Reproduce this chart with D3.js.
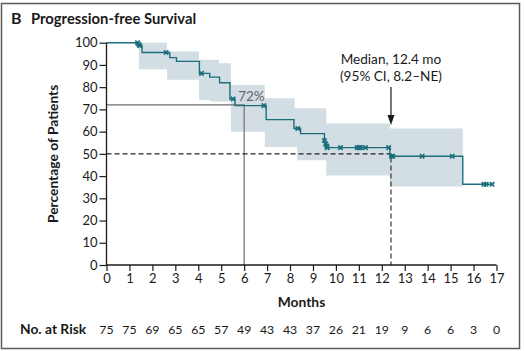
<!DOCTYPE html>
<html>
<head>
<meta charset="utf-8">
<script src="https://cdn.jsdelivr.net/npm/d3@7"></script>
<style>
  body { margin: 0; background: #fff; }
  svg text { font-family: Lato, "Open Sans", sans-serif; fill: #1a1a1a; }
</style>
</head>
<body>
<div id="chart"></div>
<script>
// Kaplan-Meier step curve (time in months, percent after each drop)
const kmTimes = [0, 1.35, 1.55, 2.76, 3.05, 4.05, 4.5, 4.93, 5.38, 5.6, 6.96, 8.17, 8.46, 9.5, 9.55, 9.6, 12.35, 15.53, 16.86];
const kmSurv  = [100, 98.7, 95.6, 93.3, 91.6, 86.2, 84.5, 82.0, 74.7, 71.7, 65.4, 61.4, 59.1, 56.0, 54.5, 52.8, 48.9, 36.3, 36.3];

// censored observations
const censorTimes = [1.35, 1.4, 1.45, 2.6, 4.14, 5.52, 6.86, 8.34, 9.5, 9.55, 9.6, 9.62, 10.2, 10.93, 11.0, 11.07, 11.29, 12.3, 12.42, 12.48, 13.76, 15.07, 16.45, 16.55, 16.81];
const censorSurv  = [100, 99.3, 98.7, 95.6, 86.2, 74.7, 71.7, 61.4, 56.0, 54.5, 53.5, 52.8, 52.8, 52.8, 52.8, 52.8, 52.8, 52.8, 48.9, 48.9, 48.9, 48.9, 36.3, 36.3, 36.3];

// 95% confidence band
const bandTimes = [1.41, 2.64, 4.03, 4.53, 4.9, 5.42, 6.9, 8.2, 8.31, 9.58, 12.35, 15.53];
const bandUpper = [100, 96, 92.3, 92.3, 90.8, 81, 75, 70.5, 70.5, 63.6, 61.4, 61.4];
const bandLower = [88.1, 83.3, 74.2, 73.5, 73.5, 59.9, 53.1, 53.1, 47.1, 40.3, 35.3, 35.3];

const xTicks = d3.range(0, 18);
const yTicks = d3.range(0, 101, 10);
const atRisk = [75, 75, 69, 65, 65, 57, 49, 43, 43, 37, 26, 21, 19, 9, 6, 6, 3, 0];

const landmarkMonth = 6, landmarkPct = 72;
const medianMonth = 12.4, medianPct = 50;

const W = 524, H = 351;
const svg = d3.select("#chart").append("svg").attr("width", W).attr("height", H);

// frame
svg.append("rect").attr("x", 1.5).attr("y", 3.5).attr("width", 518).attr("height", 345)
  .attr("fill", "none").attr("stroke", "#5a5a5a").attr("stroke-width", 1.5);

svg.append("text").attr("x", 11).attr("y", 24).attr("font-size", 16).attr("font-weight", 700).text("B");
svg.append("text").attr("x", 31).attr("y", 24).attr("font-size", 14.8).attr("font-weight", 700).text("Progression-free Survival");

const x = d3.scaleLinear().domain([0, 17]).range([106.5, 496.5]);
const y = d3.scaleLinear().domain([0, 100]).range([265, 42.7]);

const teal = "#1b6f7c";

// confidence band
const bandData = bandTimes.map((t, i) => ({t, lo: bandLower[i], hi: bandUpper[i]}));
svg.append("path").datum(bandData)
  .attr("fill", "#d3dde4")
  .attr("d", d3.area().curve(d3.curveStepAfter)
    .x(d => x(d.t)).y0(d => y(d.lo)).y1(d => y(d.hi)));

// reference lines
svg.append("path")
  .attr("d", `M${x(0)},${y(landmarkPct)}H${x(landmarkMonth)}V${y(0)}`)
  .attr("fill", "none").attr("stroke", "#6e6e6e").attr("stroke-width", 1.2);
svg.append("path")
  .attr("d", `M${x(0)},${y(medianPct)}H${x(medianMonth)}V${y(0)}`)
  .attr("fill", "none").attr("stroke", "#222").attr("stroke-width", 1.1).attr("stroke-dasharray", "5,3");

// KM curve
const kmData = kmTimes.map((t, i) => ({t, s: kmSurv[i]}));
svg.append("path").datum(kmData)
  .attr("fill", "none").attr("stroke", teal).attr("stroke-width", 1.4)
  .attr("d", d3.line().curve(d3.curveStepAfter).x(d => x(d.t)).y(d => y(d.s)));

// censor marks
const cens = censorTimes.map((t, i) => ({t, s: censorSurv[i]}));
svg.append("g").selectAll("path").data(cens).join("path")
  .attr("transform", d => `translate(${x(d.t)},${y(d.s)})`)
  .attr("d", "M-2.2,-2.2L2.2,2.2M-2.2,2.2L2.2,-2.2")
  .attr("stroke", teal).attr("stroke-width", 1.7).attr("fill", "none");

// 72% label
svg.append("text").attr("x", x(landmarkMonth) - 6).attr("y", y(landmarkPct) - 4)
  .attr("font-size", 13.5).style("fill", "#666").text("72%");

// median annotation
svg.append("text").attr("x", x(medianMonth)).attr("y", 64).attr("text-anchor", "middle")
  .attr("font-size", 13.6).text("Median, 12.4 mo");
svg.append("text").attr("x", x(medianMonth)).attr("y", 81).attr("text-anchor", "middle")
  .attr("font-size", 13.6).text("(95% CI, 8.2\u2013NE)");
svg.append("line").attr("x1", x(medianMonth)).attr("x2", x(medianMonth))
  .attr("y1", 87).attr("y2", 116).attr("stroke", "#1a1a1a").attr("stroke-width", 1.2);
svg.append("path")
  .attr("d", `M${x(medianMonth) - 3.5},115L${x(medianMonth) + 3.5},115L${x(medianMonth)},125Z`)
  .attr("fill", "#1a1a1a");

// axes
const yAxis = svg.append("g").attr("transform", `translate(${x(0)},0)`)
  .call(d3.axisLeft(y).tickValues(yTicks).tickSize(7).tickPadding(2));
const xAxis = svg.append("g").attr("transform", `translate(0,${y(0)})`)
  .call(d3.axisBottom(x).tickValues(xTicks).tickSize(6).tickPadding(3));
[xAxis, yAxis].forEach(g => {
  g.select(".domain").attr("stroke", "#1a1a1a").attr("stroke-width", 1.3);
  g.selectAll(".tick line").attr("stroke", "#1a1a1a").attr("stroke-width", 1.2);
  g.selectAll("text").attr("font-size", 13).style("font-family", "Lato, sans-serif").style("fill", "#1a1a1a");
});
yAxis.select(".domain").attr("d", `M0,${y(0)}V${y(100)}`);
xAxis.select(".domain").attr("d", `M${x(0)},0H${x(17)}`);

svg.append("text").attr("transform", `translate(58,${y(50)}) rotate(-90)`)
  .attr("text-anchor", "middle").attr("font-size", 13.8).attr("font-weight", 700)
  .text("Percentage of Patients");
svg.append("text").attr("x", x(8.5)).attr("y", 307).attr("text-anchor", "middle")
  .attr("font-size", 13.8).attr("font-weight", 700).text("Months");

// number at risk
svg.append("text").attr("x", 20).attr("y", 334).attr("font-size", 13.8).attr("font-weight", 700).text("No. at Risk");
svg.append("g").selectAll("text").data(atRisk).join("text")
  .attr("x", (d, i) => x(xTicks[i])).attr("y", 334).attr("text-anchor", "middle")
  .attr("font-size", 12.3).text(d => d);
</script>
</body>
</html>
